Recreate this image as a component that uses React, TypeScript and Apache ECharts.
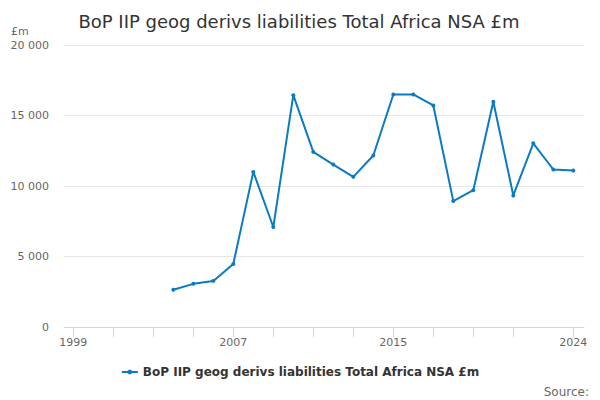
import React, { useEffect, useRef } from "react";
import * as echarts from "echarts";

const years = [2004, 2005, 2006, 2007, 2008, 2009, 2010, 2011, 2012, 2013, 2014, 2015, 2016, 2017, 2018, 2019, 2020, 2021, 2022, 2023, 2024];
const values = [2640, 3060, 3270, 4470, 11000, 7090, 16440, 12420, 11520, 10650, 12160, 16490, 16490, 15710, 8930, 9700, 15970, 9330, 13030, 11170, 11100];
const xLabelYears = [1999, 2007, 2015, 2024];
const xTickYears = [1999, 2001, 2003, 2005, 2007, 2009, 2011, 2013, 2015, 2017, 2019, 2021, 2024];
const seriesName = "BoP IIP geog derivs liabilities Total Africa NSA £m";

const FONT = "DejaVu Sans";

export default function App() {
  const ref = useRef<HTMLDivElement>(null);
  useEffect(() => {
    if (!ref.current) return;
    const chart = echarts.init(ref.current, undefined, { renderer: "svg" });
    chart.setOption({
      animation: false,
      textStyle: { fontFamily: FONT },
      title: {
        text: seriesName,
        left: 294,
        textAlign: "center",
        top: 7,
        textStyle: { fontSize: 18, fontWeight: "normal", color: "#333333", fontFamily: FONT },
      },
      grid: { left: 64, right: 16, top: 45, bottom: 73, containLabel: false },
      xAxis: {
        type: "value",
        min: 1998.535,
        max: 2024.535,
        splitLine: { show: false },
        axisLine: { show: true, lineStyle: { color: "#ccd6eb", width: 1 } },
        axisTick: { show: true, length: 10, lineStyle: { color: "#ccd6eb" }, customValues: xTickYears },
        axisLabel: {
          customValues: xLabelYears,
          color: "#666666",
          fontSize: 11,
          margin: 10,
          fontFamily: FONT,
          formatter: (v: number) => String(v),
        },
      },
      yAxis: {
        type: "value",
        min: 0,
        max: 20000,
        interval: 5000,
        axisLine: { show: false },
        axisTick: { show: false },
        splitLine: { lineStyle: { color: "#e6e6e6", width: 1 } },
        axisLabel: {
          color: "#666666",
          fontSize: 11,
          margin: 15,
          fontFamily: FONT,
          formatter: (v: number) => String(v).replace(/\B(?=(\d{3})+(?!\d))/g, " "),
        },
      },
      legend: {
        data: [seriesName],
        left: "center",
        top: 361,
        itemWidth: 16,
        itemHeight: 6,
        textStyle: { fontSize: 12, fontWeight: "bold", color: "#333333", fontFamily: FONT },
      },
      graphic: [
        { type: "text", left: 11, top: 26, style: { text: "£m", fontSize: 11, fill: "#666666", fontFamily: FONT } },
        { type: "text", right: 11, top: 386, style: { text: "Source:", fontSize: 12, fill: "#666666", fontFamily: FONT } },
      ],
      series: [
        {
          name: seriesName,
          type: "line",
          data: years.map((y, i) => [y, values[i]]),
          symbol: "circle",
          symbolSize: 4,
          lineStyle: { color: "#0b7bc1", width: 2 },
          itemStyle: { color: "#0b7bc1" },
        },
      ],
    });
    return () => chart.dispose();
  }, []);
  return <div ref={ref} style={{ width: 600, height: 400, position: "absolute", left: 0, top: 0 }} />;
}
